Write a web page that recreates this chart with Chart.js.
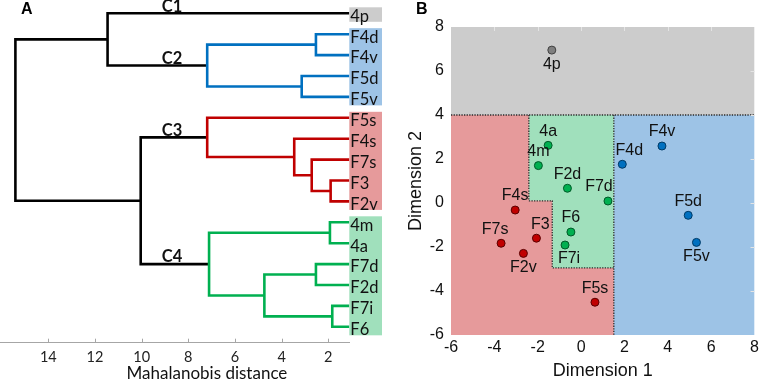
<!DOCTYPE html>
<html>
<head>
<meta charset="utf-8">
<script src="https://cdn.jsdelivr.net/npm/chart.js@4.4.1/dist/chart.umd.min.js"></script>
<style>
  html, body { margin: 0; padding: 0; background: #fff; }
  #wrap { position: relative; width: 762px; height: 382px; overflow: hidden; }
  #dendro { position: absolute; left: 0; top: 0; }
  #scatter { position: absolute; left: 380px; top: 0; }
  .panel { position: absolute; font: bold 16px "Liberation Sans", Arial, sans-serif; line-height: 16px; color: #000; }
</style>
</head>
<body>
<div id="wrap">
  <canvas id="dendro" width="382" height="382"></canvas>
  <canvas id="scatter" width="382" height="382"></canvas>
  <div class="panel" style="left:21px;top:1px">A</div>
  <div class="panel" style="left:416px;top:1px">B</div>
</div>
<script>
// ---- Panel A data: dendrogram ----
const leafNames = ['4p', 'F4d', 'F4v', 'F5d', 'F5v', 'F5s', 'F4s', 'F7s', 'F3', 'F2v', '4m', '4a', 'F7d', 'F2d', 'F7i', 'F6'];
const leafCluster = ['C1', 'C2', 'C2', 'C2', 'C2', 'C3', 'C3', 'C3', 'C3', 'C3', 'C4', 'C4', 'C4', 'C4', 'C4', 'C4'];
// linkage rows [child a, child b, distance]; ids from 16 up are earlier rows
const linkage = [
  [1, 2, 2.53],
  [3, 4, 3.14],
  [16, 17, 7.19],
  [0, 18, 11.46],
  [8, 9, 1.90],
  [7, 20, 2.71],
  [6, 21, 3.46],
  [5, 22, 7.19],
  [10, 11, 1.93],
  [12, 13, 2.53],
  [14, 15, 1.83],
  [25, 26, 4.74],
  [24, 27, 7.11],
  [23, 28, 10.04],
  [19, 29, 15.41]
];
const distTicks = [2, 4, 6, 8, 10, 12, 14];
const clusterNames = ['C1', 'C2', 'C3', 'C4'];

// ---- Panel B data: scatter ----
const pointNames = ['4p', '4a', '4m', 'F2d', 'F7d', 'F6', 'F7i', 'F4s', 'F7s', 'F3', 'F2v', 'F5s', 'F4d', 'F4v', 'F5d', 'F5v'];
const dim1 = [-1.35, -1.52, -1.97, -0.63, 1.24, -0.47, -0.74, -3.04, -3.69, -2.06, -2.66, 0.64, 1.90, 3.73, 4.94, 5.32];
const dim2 = [6.95, 2.62, 1.70, 0.67, 0.09, -1.32, -1.91, -0.32, -1.83, -1.60, -2.29, -4.51, 1.76, 2.59, -0.56, -1.79];
const pointGroup = ['C1', 'C4', 'C4', 'C4', 'C4', 'C4', 'C4', 'C3', 'C3', 'C3', 'C3', 'C3', 'C2', 'C2', 'C2', 'C2'];
const dimTicks = [-6, -4, -2, 0, 2, 4, 6, 8];
// decision boundaries (data units)
const splitY = 4;
const blueX = 1.51;
const greenX1 = -2.41;
const greenStepY = 0.1;
const greenX2 = -1.33;
const greenBottomY = -2.95;

// Colours
const regionColors = { C1: '#cccccc', C2: '#9dc3e6', C3: '#e69a9b', C4: '#a0e0bc' };
const linkColors = { C2: '#0070c0', C3: '#c00000', C4: '#00b050' };
const dotColors = { C1: '#7f7f7f', C2: '#0070c0', C3: '#c00000', C4: '#00b050' };
const dotBorders = { C1: '#404040', C2: '#003a66', C3: '#5a0000', C4: '#005a28' };

// ---- build dendrogram geometry from linkage ----
const nodeY = leafNames.map((_, i) => i);
const nodeH = leafNames.map(() => 0);
const nodeC = leafCluster.slice();
const linkSets = [];
linkage.forEach(([a, b, h], k) => {
  const id = leafNames.length + k;
  nodeY[id] = (nodeY[a] + nodeY[b]) / 2;
  nodeH[id] = h;
  nodeC[id] = (nodeC[a] && nodeC[a] === nodeC[b] && h < 8) ? nodeC[a] : null;
  linkSets.push({
    data: [
      { x: nodeH[a], y: nodeY[a] },
      { x: h, y: nodeY[a] },
      { x: h, y: nodeY[b] },
      { x: nodeH[b], y: nodeY[b] }
    ],
    showLine: true,
    borderColor: nodeC[id] ? linkColors[nodeC[id]] : '#000',
    borderWidth: 2.6,
    pointRadius: 0,
    clip: 0
  });
});
// cluster root: highest node whose leaves all belong to the cluster
const clusterRoot = {};
nodeC.forEach((c, id) => { if (c) clusterRoot[c] = id; });

const leafPlugin = {
  id: 'leafPlugin',
  afterDraw(chart) {
    const { ctx, chartArea, scales: { x, y } } = chart;
    ctx.save();
    // coloured boxes behind leaf names
    let start = 0;
    for (let i = 1; i <= leafNames.length; i++) {
      if (i === leafNames.length || leafCluster[i] !== leafCluster[start]) {
        const top = y.getPixelForValue(start) - 6;
        const bottom = y.getPixelForValue(i - 1) + 8.5;
        ctx.fillStyle = regionColors[leafCluster[start]];
        ctx.fillRect(chartArea.right, top, 33, bottom - top);
        start = i;
      }
    }
    ctx.fillStyle = '#111';
    ctx.font = '16.5px Lato, sans-serif';
    ctx.textBaseline = 'middle';
    ctx.textAlign = 'left';
    leafNames.forEach((n, i) => ctx.fillText(n, chartArea.right + 1, y.getPixelForValue(i) + 3));
    // cluster names
    ctx.font = 'bold 16.5px Lato, sans-serif';
    ctx.textAlign = 'center';
    clusterNames.forEach(c => {
      const id = clusterRoot[c];
      ctx.fillText(c, x.getPixelForValue(8.7), y.getPixelForValue(nodeY[id]) - 7);
    });
    // axis title, set off to the right as in the figure
    ctx.font = '17px Lato, sans-serif';
    ctx.fillText('Mahalanobis distance', x.getPixelForValue(7.2), 374);
    // small inward ticks on the distance axis
    ctx.strokeStyle = '#a6a6a6';
    ctx.lineWidth = 1;
    distTicks.forEach(v => {
      const px = Math.round(x.getPixelForValue(v)) + 0.5;
      ctx.beginPath();
      ctx.moveTo(px, chartArea.bottom);
      ctx.lineTo(px, chartArea.bottom - 4);
      ctx.stroke();
    });
    ctx.restore();
  }
};

new Chart(document.getElementById('dendro'), {
  type: 'scatter',
  data: { datasets: linkSets },
  plugins: [leafPlugin],
  options: {
    responsive: false,
    animation: false,
    layout: { padding: { left: 0, right: 32.7, top: 0, bottom: 0 } },
    plugins: { legend: { display: false }, tooltip: { enabled: false } },
    scales: {
      x: {
        type: 'linear',
        reverse: true,
        min: 1.1,
        max: 16.07,
        afterBuildTicks: s => { s.ticks = distTicks.map(v => ({ value: v })); },
        afterFit: s => { s.height = 39.3; },
        grid: { display: false, drawTicks: false },
        border: { display: true, color: '#a6a6a6', width: 1 },
        ticks: { font: { family: 'Lato', size: 14.5 }, color: '#222', padding: 6, maxRotation: 0 },
        title: { display: false }
      },
      y: {
        type: 'linear',
        display: false,
        reverse: true,
        min: -0.636,
        max: 15.76
      }
    }
  }
});

// ---- Panel B ----
const groupOrder = ['C1', 'C4', 'C3', 'C2'];
const dotSets = groupOrder.map(g => ({
  data: pointNames.map((n, i) => ({ x: dim1[i], y: dim2[i], name: n, g: pointGroup[i] })).filter(p => p.g === g),
  backgroundColor: dotColors[g],
  borderColor: dotBorders[g],
  borderWidth: 1,
  pointRadius: 4
}));

const labelsBelow = ['4p', 'F2v', 'F7i', 'F5v'];
const labelShift = { F4d: 7, F7s: -6, F7d: -9, F3: 4, F7i: 4 };

const regionPlugin = {
  id: 'regionPlugin',
  beforeDatasetsDraw(chart) {
    const { ctx, chartArea, scales: { x, y } } = chart;
    const xMin = x.min, xMax = x.max, yMin = y.min, yMax = y.max;
    const polys = {
      C1: [[xMin, splitY], [xMax, splitY], [xMax, yMax], [xMin, yMax]],
      C2: [[blueX, yMin], [xMax, yMin], [xMax, splitY], [blueX, splitY]],
      C4: [[greenX1, splitY], [blueX, splitY], [blueX, greenBottomY], [greenX2, greenBottomY], [greenX2, greenStepY], [greenX1, greenStepY]],
      C3: [[xMin, yMin], [blueX, yMin], [blueX, greenBottomY], [greenX2, greenBottomY], [greenX2, greenStepY], [greenX1, greenStepY], [greenX1, splitY], [xMin, splitY]]
    };
    const path = pts => {
      ctx.beginPath();
      pts.forEach(([a, b], i) => {
        const px = x.getPixelForValue(a), py = y.getPixelForValue(b);
        if (i) ctx.lineTo(px, py); else ctx.moveTo(px, py);
      });
    };
    ctx.save();
    ctx.beginPath();
    ctx.rect(chartArea.left, chartArea.top, chartArea.width, chartArea.height);
    ctx.clip();
    Object.keys(polys).forEach(k => {
      path(polys[k]);
      ctx.closePath();
      ctx.fillStyle = regionColors[k];
      ctx.fill();
    });
    ctx.strokeStyle = '#2a2a2a';
    ctx.lineWidth = 1.3;
    ctx.setLineDash([1.3, 1.3]);
    [
      [[xMin, splitY], [xMax, splitY]],
      [[greenX1, splitY], [greenX1, greenStepY], [greenX2, greenStepY], [greenX2, greenBottomY], [blueX, greenBottomY]],
      [[blueX, splitY], [blueX, yMin]]
    ].forEach(p => { path(p); ctx.stroke(); });
    ctx.restore();
  },
  afterDatasetsDraw(chart) {
    const { ctx } = chart;
    ctx.save();
    ctx.font = '16px "Liberation Sans", Arial, sans-serif';
    ctx.fillStyle = '#111';
    ctx.textAlign = 'center';
    ctx.textBaseline = 'middle';
    chart.data.datasets.forEach((ds, di) => {
      chart.getDatasetMeta(di).data.forEach((el, j) => {
        const n = ds.data[j].name;
        const dy = labelsBelow.includes(n) ? 14 : -14;
        ctx.fillText(n, el.x + (labelShift[n] || 0), el.y + dy);
      });
    });
    ctx.restore();
  },
  afterDraw(chart) {
    const { ctx, chartArea, scales: { x, y } } = chart;
    ctx.save();
    ctx.strokeStyle = '#e4e4e4';
    ctx.lineWidth = 1;
    dimTicks.forEach(v => {
      if (v > x.min && v < x.max) {
        const px = Math.round(x.getPixelForValue(v)) + 0.5;
        ctx.beginPath(); ctx.moveTo(px, chartArea.top); ctx.lineTo(px, chartArea.top + 4); ctx.stroke();
      }
      if (v > y.min && v < y.max) {
        const py = Math.round(y.getPixelForValue(v)) + 0.5;
        ctx.beginPath(); ctx.moveTo(chartArea.right, py); ctx.lineTo(chartArea.right - 4, py); ctx.stroke();
      }
    });
    ctx.restore();
  }
};

new Chart(document.getElementById('scatter'), {
  type: 'scatter',
  data: { datasets: dotSets },
  plugins: [regionPlugin],
  options: {
    responsive: false,
    animation: false,
    layout: { padding: { left: 0, right: 3.7, top: 27, bottom: 0 } },
    plugins: { legend: { display: false }, tooltip: { enabled: false } },
    scales: {
      x: {
        type: 'linear',
        min: -6,
        max: 8,
        afterBuildTicks: s => { s.ticks = dimTicks.map(v => ({ value: v })); },
        afterFit: s => { s.height = 47; },
        grid: { display: false, drawTicks: false },
        border: { display: false },
        ticks: { font: { family: 'Liberation Sans', size: 16 }, color: '#111', padding: 3, maxRotation: 0 },
        title: { display: true, text: 'Dimension 1', font: { family: 'Liberation Sans', size: 18, lineHeight: 1 }, color: '#111', padding: { top: 0, bottom: 2 } }
      },
      y: {
        type: 'linear',
        min: -6,
        max: 8,
        afterBuildTicks: s => { s.ticks = dimTicks.map(v => ({ value: v })); },
        afterFit: s => { s.width = 71; },
        grid: { display: false, drawTicks: false },
        border: { display: false },
        ticks: { font: { family: 'Liberation Sans', size: 16 }, color: '#111', padding: 7 },
        title: { display: true, text: 'Dimension 2', font: { family: 'Liberation Sans', size: 18, lineHeight: 1 }, color: '#111', padding: { top: 27, bottom: 0 } }
      }
    }
  }
});
</script>
</body>
</html>
